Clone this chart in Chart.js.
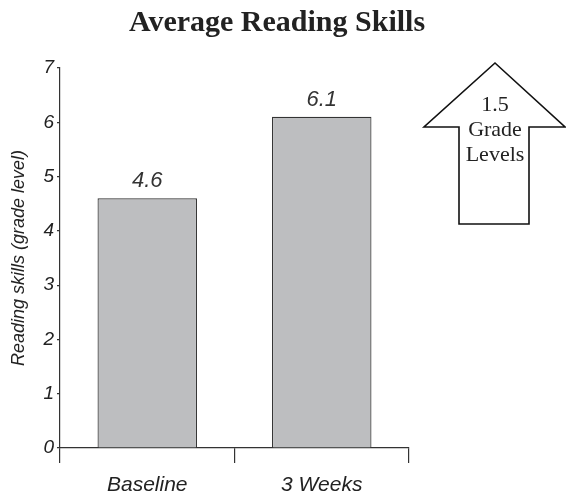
<!DOCTYPE html>
<html>
<head>
<meta charset="utf-8">
<style>
  html, body { margin: 0; padding: 0; background: #ffffff; }
  #wrap { width: 566px; height: 495px; }
</style>
<script src="https://cdn.jsdelivr.net/npm/chart.js@4.4.1/dist/chart.umd.min.js"></script>
</head>
<body>
<div id="wrap"><canvas id="c" width="566" height="495"></canvas></div>
<script>
const chartTitle = "Average Reading Skills";
const categories = ["Baseline", "3 Weeks"];
const readingValues = [4.6, 6.1];
const yTickValues = [0, 1, 2, 3, 4, 5, 6, 7];
const arrowLines = ["1.5", "Grade", "Levels"];

const titleText = {
  id: 'titleText',
  afterDraw(chart) {
    const ctx = chart.ctx;
    ctx.save();
    ctx.font = 'bold 30px "Liberation Serif", "Times New Roman", serif';
    ctx.fillStyle = '#222222';
    ctx.textAlign = 'center';
    ctx.textBaseline = 'alphabetic';
    ctx.fillText(chartTitle, 277, 31);
    ctx.restore();
  }
};

const valueLabels = {
  id: 'valueLabels',
  afterDatasetsDraw(chart) {
    const ctx = chart.ctx;
    const meta = chart.getDatasetMeta(0);
    ctx.save();
    ctx.font = 'italic 22px "Liberation Sans", Arial, sans-serif';
    ctx.fillStyle = '#333333';
    ctx.textAlign = 'center';
    ctx.textBaseline = 'alphabetic';
    meta.data.forEach((bar, i) => {
      ctx.fillText(readingValues[i].toFixed(1), bar.x, bar.y - 11);
    });
    ctx.restore();
  }
};

const arrowNote = {
  id: 'arrowNote',
  afterDraw(chart) {
    const ctx = chart.ctx;
    ctx.save();
    ctx.beginPath();
    ctx.moveTo(495, 63);
    ctx.lineTo(565, 127);
    ctx.lineTo(529, 127);
    ctx.lineTo(529, 224);
    ctx.lineTo(459, 224);
    ctx.lineTo(459, 127);
    ctx.lineTo(424, 127);
    ctx.closePath();
    ctx.fillStyle = '#ffffff';
    ctx.fill();
    ctx.lineWidth = 1.6;
    ctx.strokeStyle = '#111111';
    ctx.lineJoin = 'miter';
    ctx.stroke();
    ctx.font = '22px "Liberation Serif", "Times New Roman", serif';
    ctx.fillStyle = '#222222';
    ctx.textAlign = 'center';
    ctx.textBaseline = 'middle';
    arrowLines.forEach((t, i) => ctx.fillText(t, 495, 105 + i * 25));
    ctx.restore();
  }
};

new Chart(document.getElementById('c'), {
  type: 'bar',
  data: {
    labels: categories,
    datasets: [{
      data: readingValues,
      backgroundColor: '#bdbec0',
      borderColor: '#333333',
      borderWidth: 1.2,
      barPercentage: 0.57,
      categoryPercentage: 1.0
    }]
  },
  options: {
    responsive: false,
    animation: false,
    devicePixelRatio: 1,
    layout: { padding: { left: 0, right: 157, top: 68, bottom: 0 } },
    plugins: {
      legend: { display: false },
      tooltip: { enabled: false },
      title: { display: false }
    },
    scales: {
      x: {
        offset: true,
        afterFit(scale) { scale.height = 47; },
        grid: {
          offset: true,
          drawOnChartArea: false,
          drawTicks: true,
          tickLength: 15,
          color: '#333333',
          lineWidth: 1.2
        },
        border: { display: true, color: '#333333', width: 1.2 },
        ticks: {
          color: '#222222',
          padding: 10,
          font: { family: '"Liberation Sans", Arial, sans-serif', size: 21, style: 'italic' }
        }
      },
      y: {
        min: 0,
        max: 7,
        afterFit(scale) { scale.width = 60; },
        afterBuildTicks(scale) { scale.ticks = yTickValues.map(v => ({ value: v })); },
        grid: {
          drawOnChartArea: false,
          drawTicks: true,
          tickLength: 3,
          color: '#333333',
          lineWidth: 1.2
        },
        border: { display: true, color: '#333333', width: 1.2 },
        ticks: {
          color: '#222222',
          padding: 3,
          font: { family: '"Liberation Sans", Arial, sans-serif', size: 19, style: 'italic' }
        },
        title: {
          display: true,
          text: 'Reading skills (grade level)',
          color: '#222222',
          padding: { top: 8, bottom: 0 },
          font: { family: '"Liberation Sans", Arial, sans-serif', size: 18, style: 'italic' }
        }
      }
    }
  },
  plugins: [valueLabels, arrowNote, titleText]
});
</script>
</body>
</html>
